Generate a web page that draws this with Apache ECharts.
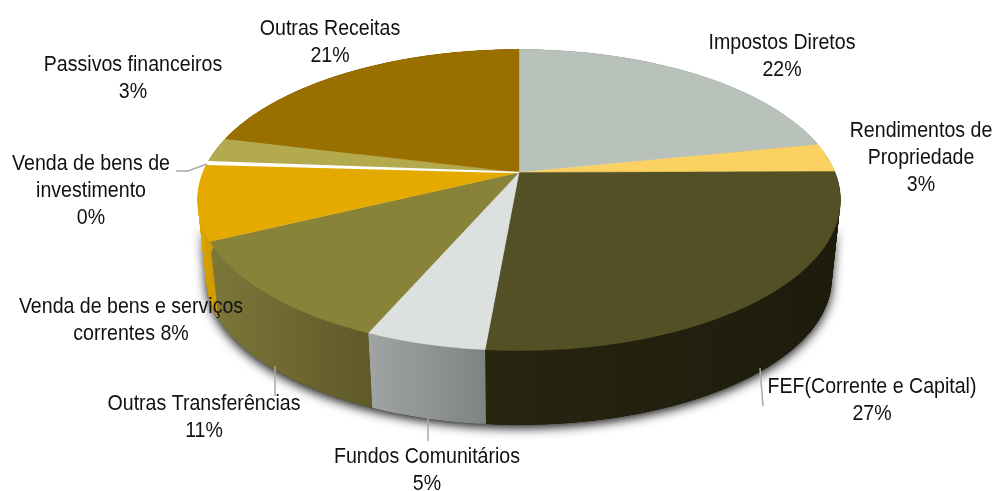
<!DOCTYPE html>
<html>
<head>
<meta charset="utf-8">
<script src="https://cdn.jsdelivr.net/npm/echarts@6/dist/echarts.min.js"></script>
<style>html,body{margin:0;padding:0;background:#fff}#c{width:994px;height:491px}</style>
</head>
<body>
<div id="c"></div>
<script>
const categories = ['Impostos Diretos','Rendimentos de\nPropriedade','FEF(Corrente e Capital)','Fundos Comunitários','Outras Transferências','Venda de bens e serviços\ncorrentes','Venda de bens de\ninvestimento','Passivos financeiros','Outras Receitas'];
const values = [21.8, 3.1, 26.5, 5.1, 11.3, 8.1, 0.3, 2.7, 21.1];
const inlinePercent = [false,false,false,false,false,true,false,false,false];

const topColors  = ['#b9c1bb','#fbd161','#535026','#dce0df','#898239','#e4aa00','#ffffff','#b3aa4d','#997000'];
const wallLight  = ['#8f9690','#d8b454','#282511','#a0a5a4','#7d773a','#e4aa00','#ffffff','#8f8a3d','#7a5a00'];
const wallDark   = ['#8f9690','#c9a548','#1d1b0b','#7f8382','#5f5a28','#d09c00','#ffffff','#8f8a3d','#7a5a00'];

// label layout (text centre of the block), separate from the data
const labelX = [782, 921, 872, 427, 204, 131, 91, 133, 330];
const labelY = [56.5, 158, 400.5, 470.5, 417.5, 320.5, 191, 78.5, 42.5];

// perspective model of the pie disc
const apexX = 519, apexY = 172.5, scaleU = 316, scaleV = 145.5, persp = 0.1827;
const bottomApexY = 251.5, bottomScale = 0.973;
const total = values.reduce((a, b) => a + b, 0);

function rim(deg, bottom) {
  const t = deg * Math.PI / 180, u = Math.sin(t), v = Math.cos(t), w = 1 + persp * v;
  const s = bottom ? bottomScale : 1, cy = bottom ? bottomApexY : apexY;
  return [apexX + s * scaleU * u / w, cy - s * scaleV * v / w];
}
function arc(a0, a1, bottom) {
  const pts = [], n = Math.max(2, Math.ceil(Math.abs(a1 - a0) * 2));
  for (let i = 0; i <= n; i++) pts.push(rim(a0 + (a1 - a0) * i / n, bottom));
  return pts;
}
function sliceAngles(i) {
  let c = 0;
  for (let k = 0; k < i; k++) c += values[k];
  return [c / total * 360, (c + values[i]) / total * 360];
}

function renderShadow(params) {
  if (params.dataIndex !== 0) return null;
  return {
    type: 'polygon',
    shape: { points: arc(100.5, 259.5, true).concat(arc(250, 110, false)) },
    style: { fill: '#222', shadowBlur: 11, shadowColor: 'rgba(0,0,0,0.95)', shadowOffsetY: 3 },
    silent: true
  };
}
function renderWall(params) {
  const i = params.dataIndex, a = sliceAngles(i);
  const top = arc(a[0], a[1], false), bot = arc(a[0], a[1], true);
  const xs = top.map(p => p[0]);
  const x0 = Math.min.apply(null, xs), x1 = Math.max.apply(null, xs);
  const grad = new echarts.graphic.LinearGradient(x0, 0, x1 + 0.01, 0, [
    { offset: 0, color: wallLight[i] }, { offset: 1, color: wallDark[i] }
  ], true);
  const children = [];
  // overlapping swept quads: they cover the silhouette of the extrusion without seams
  const last = top.length - 1;
  for (let k = 0; k < last; k++) {
    const n = Math.min(k + 3, last);
    children.push({
      type: 'polygon',
      shape: { points: [top[k], top[n], bot[n], bot[k]] },
      style: { fill: grad },
      silent: true
    });
  }
  return { type: 'group', children: children, silent: true };
}
function renderTop(params) {
  const i = params.dataIndex, a = sliceAngles(i);
  const pts = [[apexX, apexY]].concat(arc(a[0], a[1], false));
  return {
    type: 'polygon',
    shape: { points: pts },
    style: { fill: topColors[i], stroke: topColors[i], lineWidth: i === 6 ? 1.3 : 0.4 },
    z2: i === 6 ? 5 : 1,
    silent: true
  };
}

const textStyle = { font: '22px "Liberation Sans"', fill: '#111', align: 'center', verticalAlign: 'middle', lineHeight: 27 };
const textScaleX = 0.89;
const labels = categories.map((name, i) => {
  const pct = Math.round(values[i] / total * 100) + '%';
  return {
    type: 'text', x: labelX[i], y: labelY[i], scaleX: textScaleX, z: 100,
    style: Object.assign({}, textStyle, { text: name + (inlinePercent[i] ? ' ' : '\n') + pct })
  };
});
const leaderLines = [
  [[760, 368], [763, 406]],
  [[428, 418], [428, 441]],
  [[275, 366], [275, 396]],
  [[176, 171], [188, 171], [207, 164]]
].map(points => ({
  type: 'polyline', shape: { points }, z: 99,
  style: { stroke: '#a9a9a9', lineWidth: 1.5, fill: null }
}));

const chart = echarts.init(document.getElementById('c'), null, { renderer: 'canvas' });
chart.setOption({
  animation: false,
  backgroundColor: '#fff',
  series: [
    { type: 'custom', coordinateSystem: 'none', z: 1, data: values, renderItem: renderShadow, silent: true },
    { type: 'custom', coordinateSystem: 'none', z: 2, data: values, renderItem: renderWall, silent: true },
    { type: 'custom', coordinateSystem: 'none', z: 3, data: values, renderItem: renderTop, silent: true }
  ],
  graphic: { elements: leaderLines.concat(labels) }
});
</script>
</body>
</html>
